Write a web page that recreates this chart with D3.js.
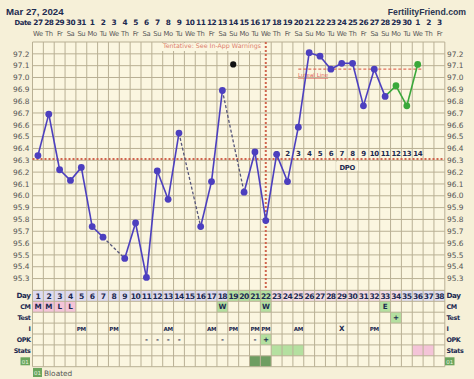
<!DOCTYPE html>
<html>
  <head>
  <title>BBT Chart</title>
  <script src="https://cdn.jsdelivr.net/npm/d3@7"></script>
  <style type="text/css">
    body { margin: 0; background: #f6f0d8; }
    text { font-family: "DejaVu Sans", Verdana, sans-serif; }
    .lib { font-family: "Liberation Sans", Arial, sans-serif; }
  </style>
  </head>
  <body>
  </body>
  <script type="text/javascript">

    var w = 474;
    var h = 379;

    // data
    var dates = [27,28,29,30,31,1,2,3,4,5,6,7,8,9,10,11,12,13,14,15,16,17,18,19,20,21,22,23,24,25,26,27,28,29,30,1,2,3];
    var weekdays = ["We","Th","Fr","Sa","Su","Mo","Tu"];
    var temps = [96.34,96.69,96.22,96.13,96.24,95.74,95.65,null,95.47,95.77,95.31,96.21,95.97,96.53,null,95.74,96.12,96.89,null,96.03,96.37,95.79,96.35,96.12,96.58,97.21,97.18,97.07,97.12,97.12,96.76,97.07,96.84,96.93,96.76,97.11,null,null];
    var discarded = [{day: 19, temp: 97.11}];
    var yTicks = [95.3,95.4,95.5,95.6,95.7,95.8,95.9,96.0,96.1,96.2,96.3,96.4,96.5,96.6,96.7,96.8,96.9,97.0,97.1,97.2];
    var coverline = 96.31;
    var lutealLine = 97.07;
    var ovulationDay = 22;
    var dpoStart = 23;
    var dpoDays = [1,2,3,4,5,6,7,8,9,10,11,12,13,14];
    var greenFrom = 33;

    var rowNames = ["Day","CM","Test","I","OPK","Stats","01"];
    var cmVals = [{day:1,t:"M",c:"pink"},{day:2,t:"M",c:"pink"},{day:3,t:"L",c:"pink"},{day:4,t:"L",c:"pink"},{day:18,t:"W",c:"green"},{day:22,t:"W",c:"green"},{day:33,t:"E",c:"green"}];
    var testVals = [{day:34,t:"+",c:"green"}];
    var iVals = [{day:5,t:"PM"},{day:8,t:"PM"},{day:13,t:"AM"},{day:17,t:"AM"},{day:19,t:"PM"},{day:21,t:"PM"},{day:22,t:"PM"},{day:25,t:"AM"},{day:29,t:"X"},{day:32,t:"PM"}];
    var opkVals = [{day:11,t:"-"},{day:12,t:"-"},{day:13,t:"-"},{day:14,t:"-"},{day:18,t:"-"},{day:21,t:"-"},{day:22,t:"+",c:"green"}];
    var statsVals = [{day:23,c:"green"},{day:24,c:"green"},{day:25,c:"green"},{day:36,c:"pink"},{day:37,c:"pink"}];
    var symptomVals = [{day:21,c:"dark"},{day:22,c:"dark"}];

    var days = d3.range(1, dates.length + 1);
    var cellFill = {pink: "#f4c4d8", green: "#b4e0a0", dark: "#6e9e62"};
    var navy = "#1c2a50";

    // scales
    var x = d3.scaleBand().domain(days).range([32.5, 444.8]);
    var y = d3.scaleLinear().domain([95.2, 97.3]).range([290.4, 42]);
    var cx = function(d) { return x(d) + x.bandwidth() / 2; };
    var rowH = 10.9;
    var tableTop = y(95.2);

    var svg = d3.select("body")
          .append("svg")
          .attr("width", w)
          .attr("height", h);

    svg.append("rect").attr("width", w).attr("height", h).attr("fill", "#f6f0d8");

    // header
    svg.append("text").attr("class", "lib").attr("x", 6).attr("y", 15)
       .attr("font-size", 9.7).attr("font-weight", "bold").attr("fill", navy)
       .text("Mar 27, 2024");
    svg.append("text").attr("class", "lib").attr("x", 466).attr("y", 14.5).attr("text-anchor", "end")
       .attr("font-size", 8.7).attr("font-weight", "bold").attr("fill", "#2a3550")
       .text("FertilityFriend.com");

    svg.append("text").attr("x", 31).attr("y", 25).attr("text-anchor", "end")
       .attr("font-size", 6.8).attr("font-weight", "bold").attr("fill", navy)
       .attr("letter-spacing", -0.4).text("Date");
    svg.selectAll(".date").data(days).enter().append("text")
       .attr("x", function(d) { return cx(d); }).attr("y", 24.8)
       .attr("text-anchor", "middle").attr("font-size", 7.4).attr("font-weight", "bold")
       .attr("fill", navy).attr("letter-spacing", -0.5)
       .text(function(d) { return dates[d - 1]; });
    svg.selectAll(".wd").data(days).enter().append("text")
       .attr("x", function(d) { return cx(d); }).attr("y", 35.5)
       .attr("text-anchor", "middle").attr("font-size", 6.8).attr("fill", "#5a5a5a")
       .attr("letter-spacing", -0.4)
       .text(function(d) { return weekdays[(d - 1) % 7]; });

    // grid
    svg.append("rect").attr("x", x(1)).attr("y", y(97.3))
       .attr("width", x.range()[1] - x(1)).attr("height", y(95.2) - y(97.3))
       .attr("fill", "#fbf6e0");
    svg.selectAll(".vg").data(d3.range(0, dates.length + 1)).enter().append("line")
       .attr("x1", function(i) { return x.range()[0] + i * x.bandwidth(); })
       .attr("x2", function(i) { return x.range()[0] + i * x.bandwidth(); })
       .attr("y1", y(97.3)).attr("y2", y(95.2))
       .attr("stroke", "#b9b094").attr("stroke-width", 1);
    svg.selectAll(".hg").data(d3.range(952, 974).map(function(v) { return v / 10; })).enter().append("line")
       .attr("x1", x.range()[0]).attr("x2", x.range()[1])
       .attr("y1", function(d) { return y(d); }).attr("y2", function(d) { return y(d); })
       .attr("stroke", "#b9b094").attr("stroke-width", 1);

    // y labels both sides
    svg.selectAll(".yl").data(yTicks).enter().append("text")
       .attr("x", 29.5).attr("y", function(d) { return y(d) + 2.7; })
       .attr("text-anchor", "end").attr("font-size", 7.4).attr("fill", "#555")
       .text(function(d) { return d.toFixed(1); });
    svg.selectAll(".yr").data(yTicks).enter().append("text")
       .attr("x", 447).attr("y", function(d) { return y(d) + 2.7; })
       .attr("font-size", 7.4).attr("fill", "#555")
       .text(function(d) { return d.toFixed(1); });

    // tentative note
    svg.append("rect").attr("x", 158).attr("y", y(97.3) + 1).attr("width", 104).attr("height", 8).attr("fill", "#fbf6e0");
    svg.append("text").attr("x", 261).attr("y", 47.5).attr("text-anchor", "end")
       .attr("font-size", 6.3).attr("fill", "#dc7e6c").text("Tentative: See In-App Warnings");

    // coverline & ovulation line
    svg.append("line").attr("x1", x.range()[0]).attr("x2", x.range()[1])
       .attr("y1", y(coverline)).attr("y2", y(coverline))
       .attr("stroke", "#d0654e").attr("stroke-width", 2).attr("stroke-dasharray", "2,2");
    svg.append("line").attr("x1", cx(ovulationDay)).attr("x2", cx(ovulationDay))
       .attr("y1", y(97.3)).attr("y2", tableTop + 2)
       .attr("stroke", "#d0654e").attr("stroke-width", 2).attr("stroke-dasharray", "2,2");

    // luteal line
    svg.append("line").attr("x1", cx(25)).attr("x2", x(36) + x.bandwidth())
       .attr("y1", y(lutealLine)).attr("y2", y(lutealLine))
       .attr("stroke", "#e0705c").attr("stroke-width", 1.2).attr("stroke-dasharray", "3,2");
    svg.append("text").attr("x", 298).attr("y", y(lutealLine) + 8)
       .attr("font-size", 5.5).attr("fill", "#e0605a").attr("text-decoration", "underline")
       .text("Luteal Line");

    // DPO
    svg.selectAll(".dpo").data(dpoDays).enter().append("text")
       .attr("x", function(d) { return cx(dpoStart + d - 1); }).attr("y", 155.5)
       .attr("text-anchor", "middle").attr("font-size", 7).attr("font-weight", "bold")
       .attr("fill", navy).attr("letter-spacing", -0.4)
       .text(function(d) { return d; });
    var dpoX = (cx(29) + cx(30)) / 2;
    svg.append("rect").attr("x", dpoX - 11).attr("y", 161.5).attr("width", 22).attr("height", 9).attr("fill", "#fbf6e0");
    svg.append("text").attr("x", dpoX).attr("y", 169.5).attr("text-anchor", "middle")
       .attr("font-size", 6.8).attr("font-weight", "bold").attr("fill", navy)
       .attr("letter-spacing", -0.3).text("DPO");

    // temperature lines
    var pts = days.map(function(d) { return {day: d, temp: temps[d - 1]}; })
                  .filter(function(p) { return p.temp !== null; });
    var line = d3.line().x(function(p) { return cx(p.day); }).y(function(p) { return y(p.temp); });
    var solid = [], dashed = [];
    for (var i = 1; i < pts.length; i++) {
      var seg = [pts[i - 1], pts[i]];
      if (pts[i].day - pts[i - 1].day > 1) dashed.push(seg);
      else solid.push(seg);
    }
    svg.selectAll(".dash").data(dashed).enter().append("path")
       .attr("d", line).attr("fill", "none").attr("stroke", "#56567a")
       .attr("stroke-width", 1.3).attr("stroke-dasharray", "3,2");
    svg.selectAll(".seg").data(solid).enter().append("path")
       .attr("d", line).attr("fill", "none")
       .attr("stroke", function(s) { return s[0].day >= greenFrom ? "#3aa83a" : "#4c3fbf"; })
       .attr("stroke-width", 1.6);
    svg.selectAll(".pt").data(pts).enter().append("circle")
       .attr("cx", function(p) { return cx(p.day); }).attr("cy", function(p) { return y(p.temp); })
       .attr("r", 3.4)
       .attr("fill", function(p) { return p.day > greenFrom ? "#3aa83a" : "#4c3fbf"; });
    svg.selectAll(".disc").data(discarded).enter().append("circle")
       .attr("cx", function(p) { return cx(p.day); }).attr("cy", function(p) { return y(p.temp); })
       .attr("r", 3.1).attr("fill", "#111");

    // bottom table
    var rowY = function(i) { return tableTop + i * rowH; };
    var dayFill = function(d) {
      if (d <= 18) return "#dedbf0";
      if (d <= 22) return "#b4e0a0";
      if (d <= 34) return "#f3dde6";
      return "#e2e0f2";
    };
    svg.selectAll(".dayc").data(days).enter().append("rect")
       .attr("x", function(d) { return x(d); }).attr("y", rowY(0))
       .attr("width", x.bandwidth()).attr("height", rowH).attr("fill", dayFill);
    svg.append("rect").attr("x", x(1)).attr("y", rowY(1))
       .attr("width", x.range()[1] - x(1)).attr("height", rowH * 6).attr("fill", "#fbf6e0");

    var rows = [cmVals, testVals, iVals, opkVals, statsVals, symptomVals];
    rows.forEach(function(vals, r) {
      svg.selectAll(".cell" + r).data(vals.filter(function(v) { return v.c; })).enter().append("rect")
         .attr("x", function(v) { return x(v.day); }).attr("y", rowY(r + 1))
         .attr("width", x.bandwidth()).attr("height", rowH)
         .attr("fill", function(v) { return cellFill[v.c]; });
      svg.selectAll(".ctext" + r).data(vals.filter(function(v) { return v.t; })).enter().append("text")
         .attr("x", function(v) { return cx(v.day); }).attr("y", rowY(r + 1) + 7.8)
         .attr("text-anchor", "middle").attr("font-size", function(v) { return v.t.length > 1 ? 5.6 : 7.2; })
         .attr("font-weight", "bold").attr("fill", navy).attr("letter-spacing", -0.3)
         .text(function(v) { return v.t; });
    });

    svg.selectAll(".tv").data(d3.range(0, dates.length + 1)).enter().append("line")
       .attr("x1", function(i) { return x.range()[0] + i * x.bandwidth(); })
       .attr("x2", function(i) { return x.range()[0] + i * x.bandwidth(); })
       .attr("y1", rowY(0)).attr("y2", rowY(7))
       .attr("stroke", "#b9b094");
    svg.selectAll(".th").data(d3.range(0, 8)).enter().append("line")
       .attr("x1", x.range()[0]).attr("x2", x.range()[1])
       .attr("y1", rowY).attr("y2", rowY)
       .attr("stroke", "#b9b094");

    svg.selectAll(".dayn").data(days).enter().append("text")
       .attr("x", function(d) { return cx(d); }).attr("y", rowY(0) + 8.3)
       .attr("text-anchor", "middle").attr("font-size", 7.6).attr("font-weight", "bold")
       .attr("fill", navy).attr("letter-spacing", -0.55)
       .text(function(d) { return d; });

    // row labels
    rowNames.forEach(function(n, i) {
      if (n === "01") {
        [20.5, 445].forEach(function(bx) {
          svg.append("rect").attr("x", bx).attr("y", rowY(i) + 1.5).attr("width", 9.5).attr("height", 8).attr("fill", "#6aa55c");
          svg.append("text").attr("x", bx + 4.75).attr("y", rowY(i) + 7.8).attr("text-anchor", "middle")
             .attr("font-size", 5.5).attr("fill", "#e8f4e0").text("01");
        });
        return;
      }
      svg.append("text").attr("x", 30.5).attr("y", rowY(i) + 7.8)
         .attr("text-anchor", "end").attr("font-size", i === 0 ? 7.2 : 6.4).attr("font-weight", "bold")
         .attr("fill", navy).attr("letter-spacing", -0.4).text(n);
      svg.append("text").attr("x", 446.5).attr("y", rowY(i) + 7.8)
         .attr("font-size", i === 0 ? 7.2 : 6.4).attr("font-weight", "bold")
         .attr("fill", navy).attr("letter-spacing", -0.4).text(n);
    });

    // legend
    svg.append("rect").attr("x", 33).attr("y", 368).attr("width", 9).attr("height", 9).attr("fill", "#6aa55c");
    svg.append("text").attr("x", 37.5).attr("y", 374.8).attr("text-anchor", "middle")
       .attr("font-size", 5.5).attr("fill", "#e8f4e0").text("01");
    svg.append("text").attr("x", 44).attr("y", 375.5).attr("font-size", 7.4).attr("fill", "#555").text("Bloated");

  </script>
</html>
